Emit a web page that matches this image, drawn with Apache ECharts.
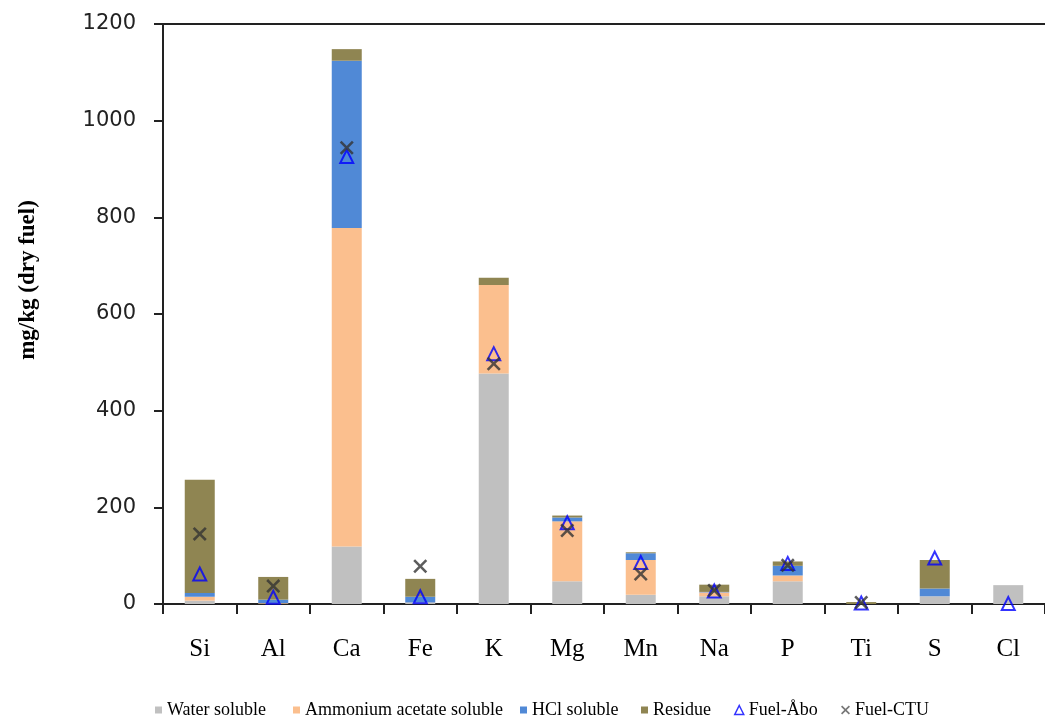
<!DOCTYPE html>
<html>
<head>
<meta charset="utf-8">
<script src="https://cdn.jsdelivr.net/npm/echarts@6/dist/echarts.min.js"></script>
<style>html,body{margin:0;padding:0;background:#fff;}#c{width:1045px;height:721px;}</style>
</head>
<body>
<div id="c"></div>
<script>
const categories = ['Si','Al','Ca','Fe','K','Mg','Mn','Na','P','Ti','S','Cl'];
const waterSoluble    = [7, 1, 119, 2, 477, 47, 19, 16, 47, 0, 16, 39];
const ammoniumSoluble = [8, 1, 659, 1, 183, 124, 72, 8, 12, 0, 0, 0];
const hclSoluble      = [8, 7, 346, 12, 0, 8, 14, 1, 20, 0, 16, 0];
const residue         = [234, 47, 24, 37, 15, 4, 2, 15, 9, 4, 59, 0];
const fuelAbo = [62, 14, 926, 15, 518, 168, 86, 27, 84, 2, 95, 1];
const fuelCTU = [145, 37, 944, 78, 497, 152, 62, 28, 80, 3, null, null];
const yTicks = {min: 0, max: 1200, interval: 200};

const xPath = 'path://M0,1.3L1.3,0L5,3.7L8.7,0L10,1.3L6.3,5L10,8.7L8.7,10L5,6.3L1.3,10L0,8.7L3.7,5Z';
const axisColor = '#222';

const chart = echarts.init(document.getElementById('c'));
const legendText = {fontFamily: 'Liberation Serif', fontSize: 18, color: '#000'};
function lg(item, left, icon, w, h) {
  const o = {data: [item], left: left, top: 701, itemWidth: w, itemHeight: h,
    textStyle: legendText, padding: 0, itemGap: 0};
  if (icon) o.icon = icon;
  return o;
}
chart.setOption({
  animation: false,
  backgroundColor: '#fff',
  grid: {left: 163, top: 24, right: -6, bottom: 117},
  legend: [
    lg('Water soluble', 155, 'rect', 7, 7),
    lg('Ammonium acetate soluble', 293, 'rect', 7, 7),
    lg('HCl soluble', 520, 'rect', 7, 7),
    lg('Residue', 641, 'rect', 7, 7),
    lg({name: 'Fuel-Åbo', itemStyle: {color: 'rgba(0,0,0,0)', borderColor: '#0000ff', borderWidth: 1.5}}, 734, 'triangle', 9, 9),
    lg({name: 'Fuel-CTU', itemStyle: {color: '#555'}}, 841, xPath, 9, 9)
  ],
  xAxis: [{
    type: 'category', data: categories,
    axisLine: {lineStyle: {color: axisColor, width: 2}},
    axisTick: {show: true, length: 10, lineStyle: {color: axisColor, width: 2}},
    axisLabel: {fontFamily: 'Liberation Serif', fontSize: 25, color: '#000', margin: 33}
  }, {
    type: 'category', data: categories, position: 'top',
    axisLine: {show: true, lineStyle: {color: axisColor, width: 2}},
    axisTick: {show: false}, axisLabel: {show: false}
  }],
  yAxis: {
    type: 'value', min: yTicks.min, max: yTicks.max, interval: yTicks.interval,
    axisLine: {show: true, lineStyle: {color: axisColor, width: 2}},
    axisTick: {show: true, length: 9, lineStyle: {color: axisColor, width: 2}},
    splitLine: {show: false},
    axisLabel: {fontFamily: 'DejaVu Sans', fontSize: 21, color: '#222', margin: 27,
      formatter: function (v) { return String(v); }}
  },
  graphic: [{
    type: 'text', x: 28, y: 280, rotation: Math.PI / 2,
    style: {text: 'mg/kg (dry fuel)', textAlign: 'center', textVerticalAlign: 'middle',
      font: 'bold 23px "Liberation Serif"', fill: '#000'}
  }],
  series: [
    {name: 'Water soluble', type: 'bar', stack: 'a', barWidth: 30, data: waterSoluble, itemStyle: {color: '#c0c0c0'}},
    {name: 'Ammonium acetate soluble', type: 'bar', stack: 'a', barWidth: 30, data: ammoniumSoluble, itemStyle: {color: '#fbbf8e'}},
    {name: 'HCl soluble', type: 'bar', stack: 'a', barWidth: 30, data: hclSoluble, itemStyle: {color: '#5089d6'}},
    {name: 'Residue', type: 'bar', stack: 'a', barWidth: 30, data: residue, itemStyle: {color: '#8f8552'}},
    {name: 'Fuel-Åbo', type: 'scatter', data: fuelAbo, symbol: 'triangle', symbolSize: [13, 13], z: 5,
      itemStyle: {color: 'rgba(0,0,0,0)', borderColor: '#0000ff', borderWidth: 2}},
    {name: 'Fuel-CTU', type: 'scatter', data: fuelCTU, symbol: xPath, symbolSize: 14, z: 6,
      itemStyle: {color: '#333'}}
  ]
});
</script>
</body>
</html>
